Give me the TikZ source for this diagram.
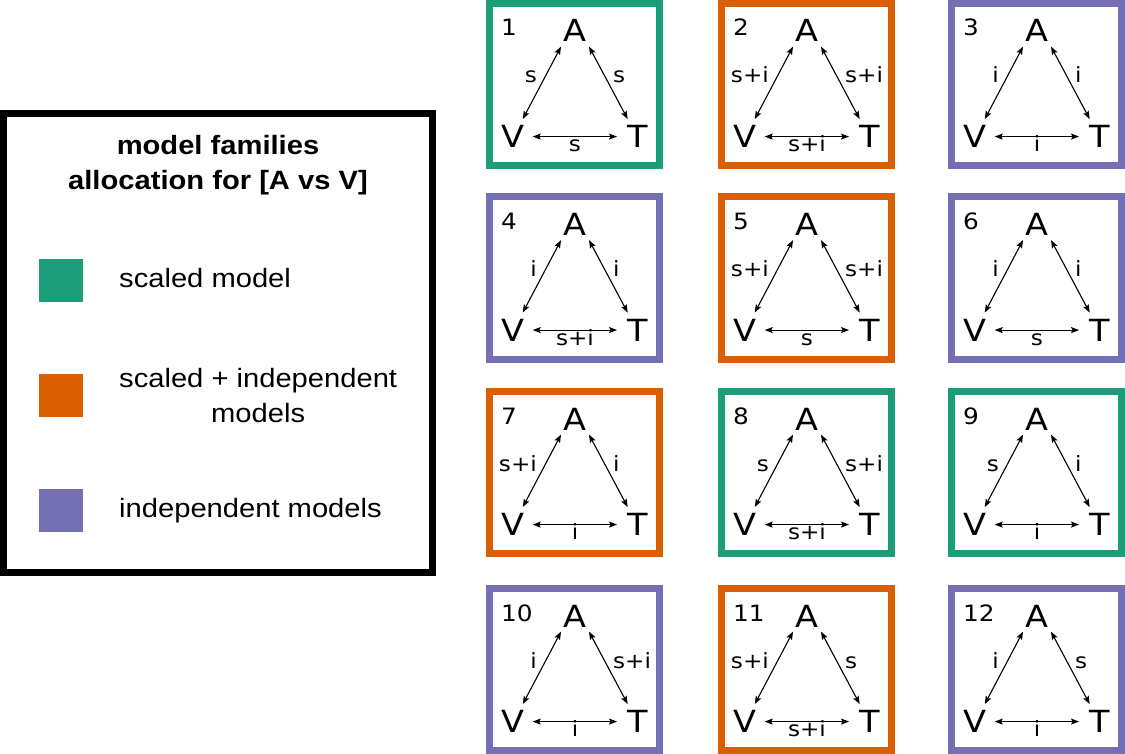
\documentclass[tikz,border=0pt]{standalone}
\usepackage{fontspec}
\setmainfont{Liberation Sans}[FakeStretch=1.1]
\newfontfamily\dvs{DejaVu Sans}[FakeStretch=1.1]
\usetikzlibrary{arrows.meta}
\definecolor{cgreen}{HTML}{1B9E77}
\definecolor{corange}{HTML}{D95F02}
\definecolor{cpurple}{HTML}{7570B3}
\tikzset{
  >={Stealth[length=8pt,width=6pt,inset=1.5pt]},
  frame/.style={draw=#1, line width=7pt, minimum width=170pt, minimum height=162pt, inner sep=0pt},
  letter/.style={font=\dvs\fontsize{30.5}{30.5}\selectfont, inner sep=0pt, anchor=base},
  num/.style={font=\dvs\fontsize{22.5}{22.5}\selectfont, inner sep=0pt, anchor=base west},
  elabel/.style={font=\dvs\fontsize{21}{21}\selectfont, inner sep=0pt},
  link/.style={<->, line width=1.1pt},
  legtext/.style={font=\fontsize{26.5}{35}\selectfont, inner sep=0pt},
  swatch/.style={fill=#1, minimum width=44pt, minimum height=43pt, inner sep=0pt, anchor=north west}
}
\newcommand\mypanel[7]{%
  \begin{scope}[shift={(#1,#2)}]
    \node[frame=#4] (box#3) at (88.5,84.5) {};
    \node[num] (n#3) at (15,36) {#3};
    \node[letter] (A#3) at (89,42) {A};
    \node[letter] (V#3) at (27,147.7) {V};
    \node[letter] (T#3) at (151.5,147.7) {T};
    \draw[link, shorten <=5pt, shorten >=7pt] (A#3.south west) -- (V#3.60);
    \draw[link, shorten <=5pt, shorten >=7pt] (A#3.south east) -- (T#3.120);
    \draw[link, shorten <=8pt, shorten >=10pt] (V#3.east) -- (T#3.west);
    \node[elabel, anchor=base east] (l#3) at (51,83) {#5};
    \node[elabel, anchor=base west] (r#3) at (127,83) {#6};
    \node[elabel, anchor=base] (b#3) at (89,151.5) {#7};
  \end{scope}}
\begin{document}
\begin{tikzpicture}[x=1pt, y=-1pt]
\useasboundingbox (0,0) rectangle (1125,754);
% legend
\node[draw, line width=7pt, minimum width=429pt, minimum height=459pt, inner sep=0pt] (legend) at (218,343) {};
\node[font=\bfseries\fontsize{26.5}{35}\selectfont, align=center, anchor=base, inner sep=0pt] (title) at (218,190) {model families\\allocation for [A vs V]};
\node[swatch=cgreen] (sq1) at (39,259) {};
\node[swatch=corange] (sq2) at (39,374) {};
\node[swatch=cpurple] (sq3) at (39,489) {};
\node[legtext, anchor=base west] (t1) at (119,287.7) {scaled model};
\node[legtext, align=center, anchor=base west] (t2) at (119,422) {scaled + independent\\models};
\node[legtext, anchor=base west] (t3) at (119,517) {independent models};
% panels
\mypanel{486}{0}{1}{cgreen}{s}{s}{s}
\mypanel{718}{0}{2}{corange}{s+i}{s+i}{s+i}
\mypanel{948}{0}{3}{cpurple}{i}{i}{i}
\mypanel{486}{193.5}{4}{cpurple}{i}{i}{s+i}
\mypanel{718}{193.5}{5}{corange}{s+i}{s+i}{s}
\mypanel{948}{193.5}{6}{cpurple}{i}{i}{s}
\mypanel{486}{388}{7}{corange}{s+i}{i}{i}
\mypanel{718}{388}{8}{cgreen}{s}{s+i}{s+i}
\mypanel{948}{388}{9}{cgreen}{s}{i}{i}
\mypanel{486}{585}{10}{cpurple}{i}{s+i}{i}
\mypanel{718}{585}{11}{corange}{s+i}{s}{s+i}
\mypanel{948}{585}{12}{cpurple}{i}{s}{i}
\end{tikzpicture}
\end{document}
